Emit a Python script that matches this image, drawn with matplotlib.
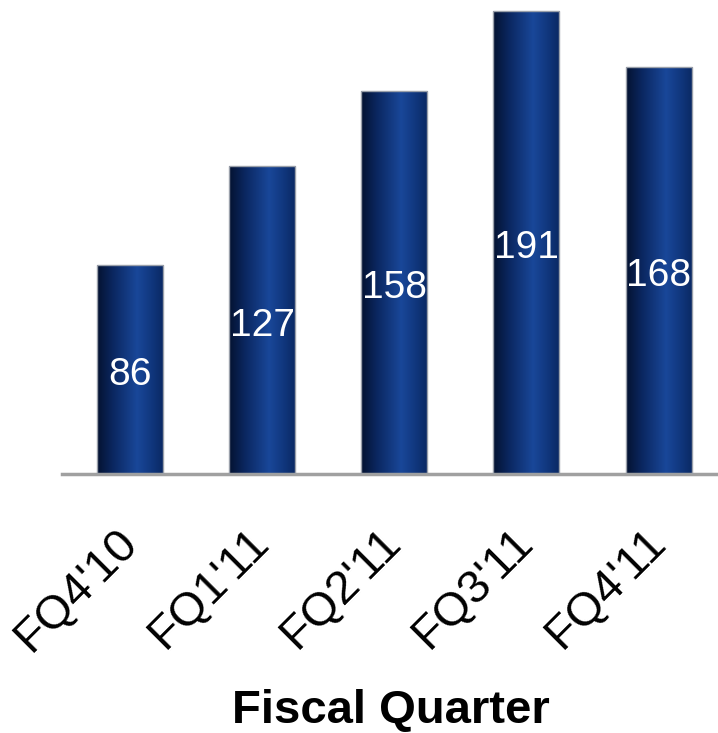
import numpy as np
import matplotlib.pyplot as plt
from matplotlib.colors import LinearSegmentedColormap
from matplotlib.transforms import ScaledTranslation

plt.rcParams['font.family'] = ['Liberation Sans', 'DejaVu Sans']

# data
quarters = ["FQ4'10", "FQ1'11", "FQ2'11", "FQ3'11", "FQ4'11"]
values = [86, 127, 158, 191, 168]

# horizontal shading used for each bar
bar_cmap = LinearSegmentedColormap.from_list(
    "bar", [(0.0, "#041230"), (0.25, "#0b2862"), (0.6, "#194799"),
            (0.8, "#113880"), (1.0, "#0a2862")])

fig = plt.figure(figsize=(7.18, 7.33), dpi=100)
ax = fig.add_axes([62 / 718, 1 - 474 / 733, 1 - 62 / 718, 474 / 733])

x = np.arange(len(quarters))
width = 0.5

grad = np.linspace(0, 1, 256).reshape(1, -1)
bars = ax.bar(x, values, width=width, color="none", edgecolor="#9aa0aa", linewidth=1.0, zorder=3)
for b in bars:
    x0, y0 = b.get_x(), b.get_y()
    im = ax.imshow(grad, cmap=bar_cmap, aspect="auto", zorder=2,
                   extent=(x0, x0 + b.get_width(), y0, y0 + b.get_height()))
    im.set_clip_path(b)

# value labels in the middle of each bar (nudged down a little)
for xi, v in zip(x, values):
    ax.annotate(str(v), (xi, v / 2), xytext=(0, -4), textcoords="offset points",
                color="white", fontsize=28, ha="center", va="center", zorder=4)

ax.set_xlim(-0.515, 4.45)
ax.set_ylim(0, 195.5)

for s in ["top", "right", "left"]:
    ax.spines[s].set_visible(False)
ax.spines["bottom"].set_color("#a0a0a0")
ax.spines["bottom"].set_linewidth(2.5)
ax.set_yticks([])
ax.set_xticks(x)
ax.set_xticklabels(quarters, rotation=45, ha="right", va="center",
                   rotation_mode="anchor", fontsize=34)
ax.tick_params(axis="x", length=0, pad=0)
shift = ScaledTranslation(0, -62 / 100, fig.dpi_scale_trans)
for lab in ax.get_xticklabels():
    lab.set_transform(lab.get_transform() + shift)

fig.text(0.545, 10 / 733, "Fiscal Quarter", fontsize=34, fontweight="bold", ha="center", va="baseline")

fig.savefig("out.png", dpi=100)
